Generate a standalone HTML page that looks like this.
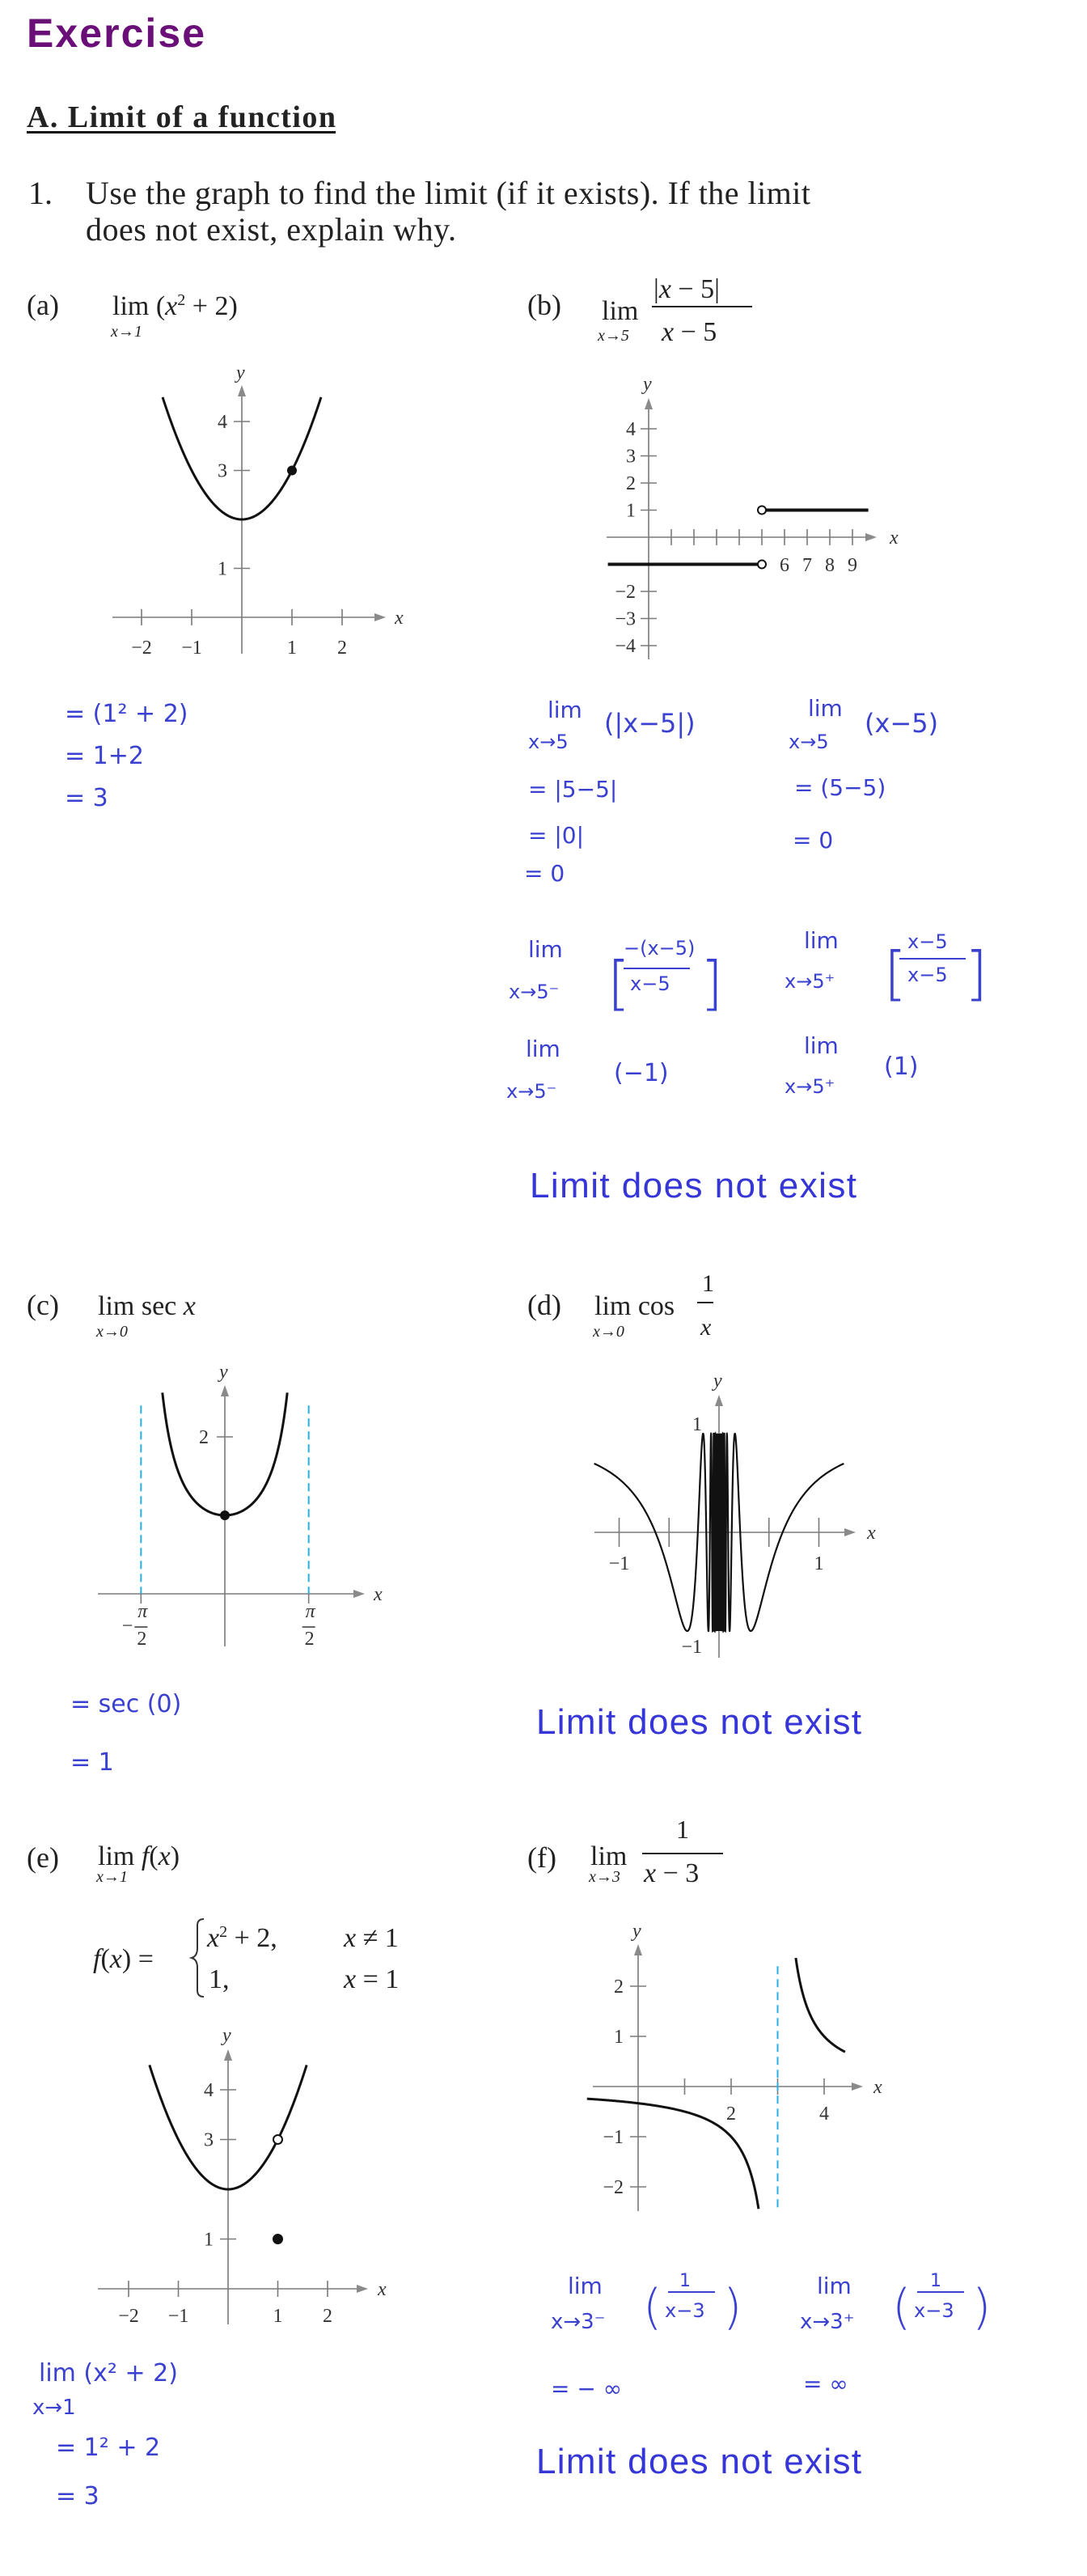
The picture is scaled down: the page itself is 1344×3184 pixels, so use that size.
<!DOCTYPE html>
<html><head><meta charset="utf-8"><style>
html,body{margin:0;padding:0;background:#fff;}
svg{display:block;}
.tb{font-family:"Liberation Serif",serif;fill:#222;}
.hw{font-family:"DejaVu Sans","Liberation Sans",sans-serif;fill:#3a40d0;}
.ax{stroke:#7a7a7a;stroke-width:1.6;fill:none;}
.cv{stroke:#111;stroke-width:3;fill:none;}
.lbl{font-family:"Liberation Serif",serif;fill:#333;font-size:24px;}
.ans{font-family:"Liberation Sans",sans-serif;fill:#3535d8;font-size:44px;}
</style></head><body>
<svg id="page" width="1344" height="3184" viewBox="0 0 1344 3184" xmlns="http://www.w3.org/2000/svg">
<text x="33" y="58" font-family="Liberation Sans, sans-serif" font-weight="bold" font-size="50" fill="#6b0f78" textLength="220">Exercise</text>
<text class="tb" x="33" y="157" font-weight="bold" font-size="38" textLength="382">A. Limit of a function</text>
<rect x="33" y="162" width="382" height="3" fill="#111"/>
<text class="tb" x="35" y="252" font-size="40">1.</text>
<text class="tb" x="106" y="252" font-size="40" textLength="896">Use the graph to find the limit (if it exists). If the limit</text>
<text class="tb" x="106" y="297" font-size="40" textLength="458">does not exist, explain why.</text>

<g>
<text class="tb" x="33" y="389" font-size="36">(a)</text>
<text class="tb" x="139" y="389" font-size="34" fill="#444">lim (<tspan font-style="italic">x</tspan><tspan dy="-12" font-size="20">2</tspan><tspan dy="12"> + 2)</tspan></text>
<text class="tb" x="137" y="416" font-size="20" font-style="italic">x→1</text>
</g>
<g>
<text class="tb" x="652" y="389" font-size="36">(b)</text>
<text class="tb" x="744" y="395" font-size="34">lim</text>
<text class="tb" x="808" y="368" font-size="34">|<tspan font-style="italic">x</tspan> − 5|</text>
<rect x="806" y="378" width="124" height="2" fill="#222"/>
<text class="tb" x="818" y="421" font-size="34"><tspan font-style="italic">x</tspan> − 5</text>
<text class="tb" x="739" y="421" font-size="20" font-style="italic">x→5</text>
</g>
<g>
<text class="tb" x="33" y="1625" font-size="36">(c)</text>
<text class="tb" x="121" y="1625" font-size="34">lim sec <tspan font-style="italic">x</tspan></text>
<text class="tb" x="119" y="1652" font-size="20" font-style="italic">x→0</text>
</g>
<g>
<text class="tb" x="652" y="1625" font-size="36">(d)</text>
<text class="tb" x="735" y="1625" font-size="34">lim cos</text>
<text class="tb" x="868" y="1596" font-size="30">1</text>
<rect x="862" y="1609" width="20" height="2" fill="#222"/>
<text class="tb" x="866" y="1650" font-size="30" font-style="italic">x</text>
<text class="tb" x="733" y="1652" font-size="20" font-style="italic">x→0</text>
</g>
<g>
<text class="tb" x="33" y="2308" font-size="36">(e)</text>
<text class="tb" x="121" y="2305" font-size="34">lim <tspan font-style="italic">f</tspan>(<tspan font-style="italic">x</tspan>)</text>
<text class="tb" x="119" y="2326" font-size="20" font-style="italic">x→1</text>
<text class="tb" x="115" y="2432" font-size="34"><tspan font-style="italic">f</tspan>(<tspan font-style="italic">x</tspan>) =</text>
<path d="M252 2372 q-8 0 -8 8 v28 q0 10 -7 12 q7 2 7 12 v28 q0 8 8 8" fill="none" stroke="#333" stroke-width="2"/>
<text class="tb" x="256" y="2406" font-size="34"><tspan font-style="italic">x</tspan><tspan dy="-12" font-size="20">2</tspan><tspan dy="12"> + 2,</tspan></text>
<text class="tb" x="425" y="2406" font-size="34"><tspan font-style="italic">x</tspan> ≠ 1</text>
<text class="tb" x="258" y="2457" font-size="34">1,</text>
<text class="tb" x="425" y="2457" font-size="34"><tspan font-style="italic">x</tspan> = 1</text>
</g>
<g>
<text class="tb" x="652" y="2308" font-size="36">(f)</text>
<text class="tb" x="730" y="2305" font-size="34">lim</text>
<text class="tb" x="836" y="2272" font-size="32">1</text>
<rect x="794" y="2290" width="100" height="2" fill="#222"/>
<text class="tb" x="796" y="2326" font-size="34"><tspan font-style="italic">x</tspan> − 3</text>
<text class="tb" x="728" y="2326" font-size="20" font-style="italic">x→3</text>
</g>

<g class="hw" font-size="30">
<text x="80" y="892">= (1² + 2)</text>
<text x="80" y="944">= 1+2</text>
<text x="80" y="996">= 3</text>
</g>
<g class="hw" font-size="28">
<text x="677" y="887">lim</text><text x="653" y="925" font-size="24">x→5</text>
<text x="747" y="905" font-size="32">(|x−5|)</text>
<text x="999" y="885">lim</text><text x="975" y="925" font-size="24">x→5</text>
<text x="1069" y="905" font-size="32">(x−5)</text>
<text x="653" y="985">= |5−5|</text>
<text x="653" y="1042">= |0|</text>
<text x="648" y="1089">= 0</text>
<text x="982" y="983">= (5−5)</text>
<text x="980" y="1048">= 0</text>
<text x="653" y="1183">lim</text><text x="629" y="1234" font-size="24">x→5⁻</text>
<text x="751" y="1240" font-size="72" font-weight="lighter">[</text>
<text x="866" y="1240" font-size="72" font-weight="lighter">]</text>
<text x="771" y="1180" font-size="24">−(x−5)</text>
<rect x="771" y="1196" width="82" height="2" fill="#3a40d0"/>
<text x="779" y="1224" font-size="24">x−5</text>
<text x="994" y="1172">lim</text><text x="970" y="1221" font-size="24">x→5⁺</text>
<text x="1093" y="1228" font-size="72" font-weight="lighter">[</text>
<text x="1193" y="1228" font-size="72" font-weight="lighter">]</text>
<text x="1122" y="1172" font-size="24">x−5</text>
<rect x="1112" y="1184" width="82" height="2" fill="#3a40d0"/>
<text x="1122" y="1213" font-size="24">x−5</text>
<text x="650" y="1306">lim</text><text x="626" y="1357" font-size="24">x→5⁻</text>
<text x="759" y="1336" font-size="30">(−1)</text>
<text x="994" y="1302">lim</text><text x="970" y="1351" font-size="24">x→5⁺</text>
<text x="1093" y="1328" font-size="30">(1)</text>
</g>
<text class="ans" x="655" y="1480" textLength="404">Limit does not exist</text>
<g class="hw" font-size="30">
<text x="87" y="2116">= sec (0)</text>
<text x="87" y="2188">= 1</text>
</g>
<text class="ans" x="663" y="2143" textLength="402">Limit does not exist</text>
<g class="hw" font-size="30">
<text x="48" y="2943">lim (x² + 2)</text>
<text x="40" y="2984" font-size="26">x→1</text>
<text x="69" y="3035">= 1² + 2</text>
<text x="69" y="3095">= 3</text>
</g>
<g class="hw" font-size="28">
<text x="702" y="2835">lim</text><text x="681" y="2878" font-size="26">x→3⁻</text>
<text x="795" y="2872" font-size="60" font-weight="lighter">(</text>
<text x="840" y="2826" font-size="22">1</text>
<rect x="826" y="2832" width="58" height="2" fill="#3a40d0"/>
<text x="822" y="2864" font-size="24">x−3</text>
<text x="894" y="2872" font-size="60" font-weight="lighter">)</text>
<text x="1010" y="2835">lim</text><text x="989" y="2878" font-size="26">x→3⁺</text>
<text x="1103" y="2872" font-size="60" font-weight="lighter">(</text>
<text x="1150" y="2826" font-size="22">1</text>
<rect x="1134" y="2832" width="58" height="2" fill="#3a40d0"/>
<text x="1130" y="2864" font-size="24">x−3</text>
<text x="1202" y="2872" font-size="60" font-weight="lighter">)</text>
<text x="681" y="2962">= − ∞</text>
<text x="993" y="2956">= ∞</text>
</g>
<text class="ans" x="663" y="3057" textLength="402">Limit does not exist</text>

<g id="charts"></g>
</svg>
<script>
// (a)
const aXTicks=[-2,-1,1,2];
const aYTicks=[1,3,4];
const aDomain=[-1.58,1.58];
const aPoint=[1,3];
// (b)
const bXTicks=[1,2,3,4,5,6,7,8,9];
const bXLabels=[6,7,8,9];
const bYTicks=[4,3,2,1,-2,-3,-4];
const bUpper=[5,9.7,1];
const bLower=[-1.8,5,-1];
// (c)
const cYTicks=[2];
const cDomain=[-1.17,1.17];
const cAsym=[-Math.PI/2,Math.PI/2];
const cAsymTop=[2.4];
const cPoint=[0,1];
// (d)
const dXTicks=[-1,-0.5,0.5,1];
const dXLabels=[-1,1];
const dDomain=[-1.25,1.25];
// (e)
const eXTicks=[-2,-1,1,2];
const eYTicks=[1,3,4];
const eDomain=[-1.58,1.58];
const eOpen=[1,3];
const eFilled=[1,1];
// (f)
const fXTicks=[1,2,3,4];
const fXLabels=[2,4];
const fYTicks=[2,1,-1,-2];
const fLeftDomain=[-1.1,2.59];
const fRightDomain=[3.39,4.45];
const fAsymRange=[2.4,-2.5];

const NS='http://www.w3.org/2000/svg';
const root=document.getElementById('charts');
function mk(tag,attrs,parent){const e=document.createElementNS(NS,tag);for(const k in attrs)e.setAttribute(k,attrs[k]);(parent||root).appendChild(e);return e;}
function axes(ox,oy,ux,uy){return {sx:v=>ox+v*ux,sy:v=>oy-v*uy};}
function arrowR(g,x,y){const p=mk('path',{d:`M${x} ${y} l-14 -5 l0 10 z`,fill:'#8a8a8a'},g);}
function arrowU(g,x,y){const p=mk('path',{d:`M${x} ${y} l-5 14 l10 0 z`,fill:'#8a8a8a'},g);}
function line(g,x1,y1,x2,y2,cls,name){const l=mk('line',{x1,y1,x2,y2,class:cls},g);return l;}
function txt(g,x,y,s,name,extra){const t=mk('text',Object.assign({x,y,class:'lbl'},extra||{}),g);t.textContent=s;return t;}
function curve(g,f,a,b,A,n,name,w){let d='';for(let i=0;i<=n;i++){const x=a+(b-a)*i/n;d+=(i?'L':'M')+A.sx(x).toFixed(2)+' '+A.sy(f(x)).toFixed(2);}const p=mk('path',{d,class:'cv'},g);if(w)p.style.strokeWidth=w;return p;}
function dot(g,x,y,r,open,name){const c=mk('circle',{cx:x,cy:y,r,fill:open?'#fff':'#111',stroke:'#111','stroke-width':2},g);}
function group(name){const g=mk('g',{});return g;}
function dashed(l){l.style.stroke='#27b0e6';l.style.strokeDasharray='10 6';l.style.strokeWidth='2';}

(function(){const g=group('chart-a');const A=axes(299,763,62,60.5);
line(g,139,763,470,763,'ax','x-axis');arrowR(g,477,763);txt(g,488,771,'x','x-axis-title',{'font-style':'italic'});
line(g,299,808,299,484,'ax','y-axis');arrowU(g,299,476);txt(g,292,468,'y','y-axis-title',{'font-style':'italic'});
aXTicks.forEach(v=>{line(g,A.sx(v),753,A.sx(v),773,'ax','x-tick');txt(g,A.sx(v),808,v<0?'−'+(-v):String(v),'x-tick-label',{'text-anchor':'middle'});});
aYTicks.forEach(v=>{line(g,289,A.sy(v),309,A.sy(v),'ax','y-tick');txt(g,281,A.sy(v)+8,String(v),'y-tick-label',{'text-anchor':'end'});});
curve(g,x=>x*x+2,aDomain[0],aDomain[1],A,120,'parabola-curve');
dot(g,A.sx(aPoint[0]),A.sy(aPoint[1]),5,false,'point-1-3');})();

(function(){const g=group('chart-b');const A=axes(802,664,28,33.5);
line(g,750,664,1072,664,'ax','x-axis');arrowR(g,1084,664);txt(g,1100,672,'x','x-axis-title',{'font-style':'italic'});
line(g,802,815,802,500,'ax','y-axis');arrowU(g,802,492);txt(g,795,482,'y','y-axis-title',{'font-style':'italic'});
bXTicks.forEach(v=>line(g,A.sx(v),654,A.sx(v),674,'ax','x-tick'));
bXLabels.forEach(v=>txt(g,A.sx(v),706,String(v),'x-tick-label',{'text-anchor':'middle'}));
bYTicks.forEach(v=>{line(g,792,A.sy(v),812,A.sy(v),'ax','y-tick');txt(g,786,A.sy(v)+8,v<0?'−'+(-v):String(v),'y-tick-label',{'text-anchor':'end'});});
const u=line(g,A.sx(bUpper[0])+5,A.sy(bUpper[2]),A.sx(bUpper[1]),A.sy(bUpper[2]),'cv','upper-branch');u.style.strokeWidth='4';
const l=line(g,A.sx(bLower[0]),A.sy(bLower[2]),A.sx(bLower[1])-5,A.sy(bLower[2]),'cv','lower-branch');l.style.strokeWidth='4';
dot(g,A.sx(bUpper[0]),A.sy(bUpper[2]),5,true,'open-point-upper');
dot(g,A.sx(bLower[1]),A.sy(bLower[2]),5,true,'open-point-lower');})();

(function(){const g=group('chart-c');const A=axes(278,1970,66,97);
line(g,121,1970,444,1970,'ax','x-axis');arrowR(g,451,1970);txt(g,462,1978,'x','x-axis-title',{'font-style':'italic'});
line(g,278,2035,278,1720,'ax','y-axis');arrowU(g,278,1712);txt(g,271,1703,'y','y-axis-title',{'font-style':'italic'});
cYTicks.forEach(v=>{line(g,268,A.sy(v),288,A.sy(v),'ax','y-tick');txt(g,258,A.sy(v)+8,String(v),'y-tick-label',{'text-anchor':'end'});});
cAsym.forEach((v,i)=>{dashed(line(g,A.sx(v),A.sy(cAsymTop[0]),A.sx(v),1970,'ax','asymptote'));
 line(g,A.sx(v),1970,A.sx(v),1982,'ax','x-tick');
 txt(g,A.sx(v)+2,1999,'π','pi-label',{'text-anchor':'middle','font-style':'italic'});
 line(g,A.sx(v)-8,2011,A.sx(v)+8,2011,'ax','fraction-bar').style.stroke='#333';
 txt(g,A.sx(v)+1,2033,'2','two-label',{'text-anchor':'middle'});
 if(i===0)txt(g,A.sx(v)-10,2017,'−','minus-label',{'text-anchor':'end'});});
curve(g,x=>1/Math.cos(x),cDomain[0],cDomain[1],A,160,'secant-curve');
dot(g,A.sx(cPoint[0]),A.sy(cPoint[1]),5,false,'point-0-1');})();

(function(){const g=group('chart-d');const A=axes(889,1894,123.5,122);
line(g,735,1894,1050,1894,'ax','x-axis');arrowR(g,1058,1894);txt(g,1072,1902,'x','x-axis-title',{'font-style':'italic'});
line(g,889,2049,889,1732,'ax','y-axis');arrowU(g,889,1724);txt(g,882,1714,'y','y-axis-title',{'font-style':'italic'});
dXTicks.forEach(v=>line(g,A.sx(v),1876,A.sx(v),1912,'ax','x-tick'));
dXLabels.forEach(v=>txt(g,A.sx(v),1940,v<0?'−1':'1','x-tick-label',{'text-anchor':'middle'}));
txt(g,868,1768,'1','y-label-1',{'text-anchor':'end'});txt(g,868,2043,'−1','y-label-neg1',{'text-anchor':'end'});
for(const s of [-1,1]){const arr=[];for(let u=1/Math.abs(dDomain[0]);u<=300;u+=0.02){arr.push(s/u);}
 let dd='';arr.forEach((x,i)=>{dd+=(i?'L':'M')+A.sx(x).toFixed(2)+' '+A.sy(Math.cos(1/x)).toFixed(2);});
 const p=mk('path',{d:dd,class:'cv'},g);p.style.strokeWidth='2.2';}})();

(function(){const g=group('chart-e');const A=axes(282,2829,61.5,61.5);
line(g,121,2829,448,2829,'ax','x-axis');arrowR(g,455,2829);txt(g,467,2837,'x','x-axis-title',{'font-style':'italic'});
line(g,282,2873,282,2541,'ax','y-axis');arrowU(g,282,2533);txt(g,275,2523,'y','y-axis-title',{'font-style':'italic'});
eXTicks.forEach(v=>{line(g,A.sx(v),2819,A.sx(v),2839,'ax','x-tick');txt(g,A.sx(v),2870,v<0?'−'+(-v):String(v),'x-tick-label',{'text-anchor':'middle'});});
eYTicks.forEach(v=>{line(g,272,A.sy(v),292,A.sy(v),'ax','y-tick');txt(g,264,A.sy(v)+8,String(v),'y-tick-label',{'text-anchor':'end'});});
curve(g,x=>x*x+2,eDomain[0],eDomain[1],A,120,'parabola-curve');
dot(g,A.sx(eOpen[0]),A.sy(eOpen[1]),5.5,true,'open-point-1-3');
dot(g,A.sx(eFilled[0]),A.sy(eFilled[1]),5.5,false,'point-1-1');})();

(function(){const g=group('chart-f');const A=axes(789,2579,57.5,62);
line(g,733,2579,1060,2579,'ax','x-axis');arrowR(g,1067,2579);txt(g,1080,2587,'x','x-axis-title',{'font-style':'italic'});
line(g,789,2733,789,2411,'ax','y-axis');arrowU(g,789,2403);txt(g,782,2394,'y','y-axis-title',{'font-style':'italic'});
fXTicks.forEach(v=>line(g,A.sx(v),2569,A.sx(v),2589,'ax','x-tick'));
fXLabels.forEach(v=>txt(g,A.sx(v),2620,String(v),'x-tick-label',{'text-anchor':'middle'}));
fYTicks.forEach(v=>{line(g,779,A.sy(v),799,A.sy(v),'ax','y-tick');txt(g,771,A.sy(v)+8,v<0?'−'+(-v):String(v),'y-tick-label',{'text-anchor':'end'});});
dashed(line(g,A.sx(3),A.sy(fAsymRange[0]),A.sx(3),A.sy(fAsymRange[1]),'ax','asymptote'));
curve(g,x=>1/(x-3),fLeftDomain[0],fLeftDomain[1],A,200,'left-branch');
curve(g,x=>1/(x-3),fRightDomain[0],fRightDomain[1],A,100,'right-branch');})();
</script>
</body></html>
